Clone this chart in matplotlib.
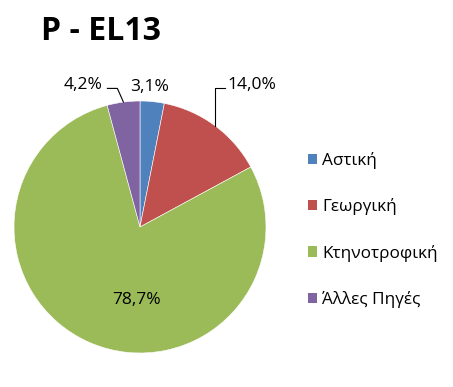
import numpy as np
import matplotlib.pyplot as plt
from matplotlib.patches import Patch

plt.rcParams['font.family'] = ['Open Sans', 'DejaVu Sans']

categories = ["Αστική", "Γεωργική", "Κτηνοτροφική", "Άλλες Πηγές"]
shares = [3.1, 14.0, 78.7, 4.2]
value_labels = ["3,1%", "14,0%", "78,7%", "4,2%"]
colors = ["#4F81BD", "#C0504D", "#9BBB59", "#8064A2"]

W, H = 453, 387
fig = plt.figure(figsize=(W / 100, H / 100), dpi=100)
fig.patch.set_facecolor("white")

# pie axes: centre ~ (140, 227) px, radius ~126 px
cx, cy, r = 140, 227, 126
ax = fig.add_axes([(cx - r) / W, (H - cy - r) / H, 2 * r / W, 2 * r / H])
wedges, _ = ax.pie(shares, colors=colors, startangle=90, counterclock=False,
                   radius=1.0, wedgeprops=dict(edgecolor="white", linewidth=0.4))
ax.set_xlim(-1, 1)
ax.set_ylim(-1, 1)
ax.set_aspect("auto")
ax.axis("off")

txt = dict(fontsize=12.5, color="black", ha="center", va="center", clip_on=False)

def mid(w):
    a = np.deg2rad((w.theta1 + w.theta2) / 2)
    return np.cos(a), np.sin(a)

# Αστική: label just above the slice
ax.text(0.08, 1.11, value_labels[0], **txt)

# Γεωργική: label with elbow leader
mx, my = mid(wedges[1])
ax.plot([mx, mx, mx + 0.08], [my, 1.10, 1.10], color="black", lw=0.8, clip_on=False)
ax.text(0.89, 1.13, value_labels[1], **txt)

# Κτηνοτροφική: inside
ax.text(-0.03, -0.58, value_labels[2], **txt)

# Άλλες Πηγές: label with leader
mx, my = mid(wedges[3])
ax.plot([mx, mx - 0.048, mx - 0.127], [my, 1.10, 1.10], color="black", lw=0.8, clip_on=False)
ax.text(-0.45, 1.13, value_labels[3], **txt)

fig.text(41 / W, 1 - 31 / H, "P - EL13", fontsize=23, fontweight="bold",
         ha="left", va="center")

handles = [Patch(facecolor=c, edgecolor="none") for c in colors]
fig.legend(handles, categories, loc="upper left", bbox_to_anchor=(301 / W, 1 - 145 / H),
           frameon=False, fontsize=12.3, handlelength=0.55, handleheight=0.55,
           handletextpad=0.3, labelspacing=1.72, borderaxespad=0)

fig.savefig("out.png", dpi=100, facecolor="white")
